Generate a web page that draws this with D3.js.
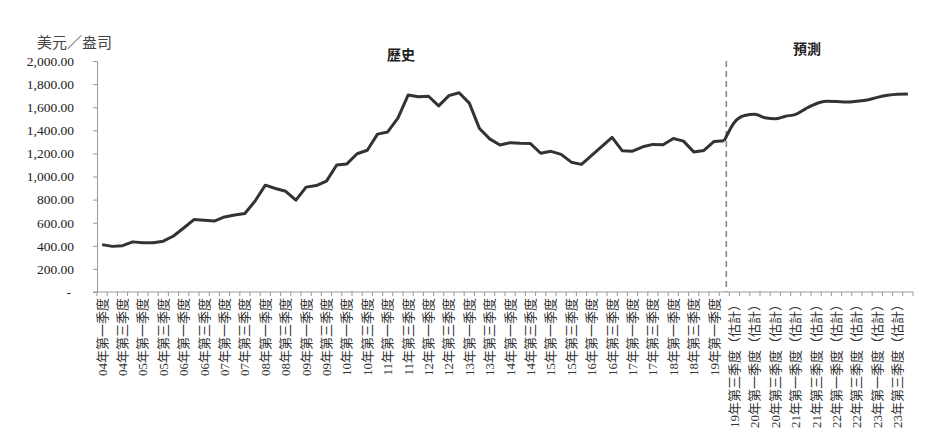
<!DOCTYPE html>
<html>
<head>
<meta charset="utf-8">
<script src="https://cdn.jsdelivr.net/npm/d3@7"></script>
<style>
  body { margin: 0; background: #fff; }
  svg text { font-family: "Liberation Serif", "Noto Sans CJK TC", serif; }
</style>
</head>
<body>
<div id="chart"></div>
<script>
// quarters 04Q1 .. 23Q4
var years = d3.range(4, 24);
var quarterNames = ["一", "二", "三", "四"];

// history: 04Q1 .. 19Q2
var histValues = [
  410, 395, 401, 434,
  427, 427, 440, 485,
  554, 627, 622, 614,
  650, 667, 680, 788,
  925, 896, 872, 795,
  908, 922, 960, 1100,
  1109, 1197, 1227, 1367,
  1386, 1506, 1705, 1690,
  1695, 1612, 1700, 1725,
  1635, 1415, 1326, 1272,
  1293, 1288, 1285, 1201,
  1218, 1192, 1124, 1105,
  1183, 1260, 1338, 1222,
  1219, 1257, 1278, 1275,
  1329, 1306, 1213, 1226,
  1304, 1310
];

// forecast: 19Q3 .. 23Q4
var foreValues = [
  1470, 1528, 1538, 1508, 1500, 1522, 1538, 1588, 1630,
  1652, 1650, 1645, 1652, 1662, 1685, 1703, 1712, 1714
];

var yTicks = d3.range(0, 2001, 200);
var yTitle = "美元／盎司";
var histTitle = "歷史";
var foreTitle = "預測";

var categories = [];
years.forEach(function(yr) {
  quarterNames.forEach(function(q) {
    categories.push((yr < 10 ? "0" : "") + yr + "年第" + q + "季度");
  });
});
var nHist = histValues.length;
var catLabels = categories.map(function(c, i) {
  return i >= nHist ? c + "（估計）" : c;
});

var width = 940, height = 447;
var plotLeft = 97, plotRight = 913, plotTop = 61, plotBottom = 292;

var svg = d3.select("#chart").append("svg")
  .attr("width", width)
  .attr("height", height);

var xScale = d3.scaleBand().domain(categories).range([plotLeft, plotRight]);
var xc = function(c) { return xScale(c) + xScale.bandwidth() / 2; };
var yScale = d3.scaleLinear().domain([0, 2000]).range([plotBottom, plotTop]);

// y axis
var yAxis = svg.append("g")
  .attr("transform", "translate(" + plotLeft + ",0)")
  .call(d3.axisLeft(yScale).tickValues(yTicks).tickSize(4).tickPadding(19)
    .tickFormat(function(d) { return d === 0 ? "-" : d3.format(",.2f")(d); }));
yAxis.select(".domain").attr("stroke", "#999");
yAxis.selectAll(".tick line").attr("stroke", "#999");
yAxis.selectAll(".tick text")
  .attr("fill", "#222")
  .style("font-size", "13.5px");
yAxis.selectAll(".tick text").filter(function(d) { return d === 0; })
  .attr("x", -26);

// x axis line and ticks between categories
svg.append("line")
  .attr("x1", plotLeft - 4).attr("x2", plotRight)
  .attr("y1", plotBottom).attr("y2", plotBottom)
  .attr("stroke", "#999");
svg.append("g").selectAll("line")
  .data(categories.concat(["end"]))
  .enter().append("line")
  .attr("x1", function(d) { return d === "end" ? plotRight : xScale(d); })
  .attr("x2", function(d) { return d === "end" ? plotRight : xScale(d); })
  .attr("y1", plotBottom).attr("y2", plotBottom + 4)
  .attr("stroke", "#999");

// rotated category labels, every other quarter
svg.append("g").selectAll("text")
  .data(categories.filter(function(c, i) { return i % 2 === 0; }))
  .enter().append("text")
  .attr("transform", function(d) { return "translate(" + xc(d) + "," + (plotBottom + 6) + ") rotate(-90)"; })
  .attr("text-anchor", "end")
  .attr("dy", "0.35em")
  .attr("fill", "#333")
  .style("font-size", "13px")
  .text(function(d) { return catLabels[categories.indexOf(d)]; });

// dashed divider at last history point
var splitCat = categories[nHist - 1];
svg.append("line")
  .attr("x1", xc(splitCat) + 2).attr("x2", xc(splitCat) + 2)
  .attr("y1", yScale(2000)).attr("y2", plotBottom)
  .attr("stroke", "#888")
  .attr("stroke-width", 1.6)
  .attr("stroke-dasharray", "6,4");

// history line
var histPts = histValues.map(function(v, i) { return [xc(categories[i]), yScale(v)]; });
svg.append("path")
  .attr("d", d3.line().curve(d3.curveLinear)(histPts))
  .attr("fill", "none")
  .attr("stroke", "#333")
  .attr("stroke-width", 3)
  .attr("stroke-linejoin", "round");

// forecast line (smoothed), starting from last history point
var forePts = [histPts[nHist - 1]].concat(foreValues.map(function(v, i) {
  return [xc(categories[nHist + i]), yScale(v)];
}));
svg.append("path")
  .attr("d", d3.line().curve(d3.curveMonotoneX)(forePts))
  .attr("fill", "none")
  .attr("stroke", "#333")
  .attr("stroke-width", 3)
  .attr("stroke-linejoin", "round");

// titles
svg.append("text")
  .attr("x", 37).attr("y", 48)
  .attr("fill", "#444")
  .style("font-size", "15px")
  .text(yTitle);
svg.append("text")
  .attr("x", 401).attr("y", 60)
  .attr("text-anchor", "middle")
  .attr("fill", "#222")
  .style("font-size", "14px")
  .style("font-weight", "bold")
  .text(histTitle);
svg.append("text")
  .attr("x", 807).attr("y", 54)
  .attr("text-anchor", "middle")
  .attr("fill", "#222")
  .style("font-size", "14px")
  .style("font-weight", "bold")
  .text(foreTitle);
</script>
</body>
</html>
